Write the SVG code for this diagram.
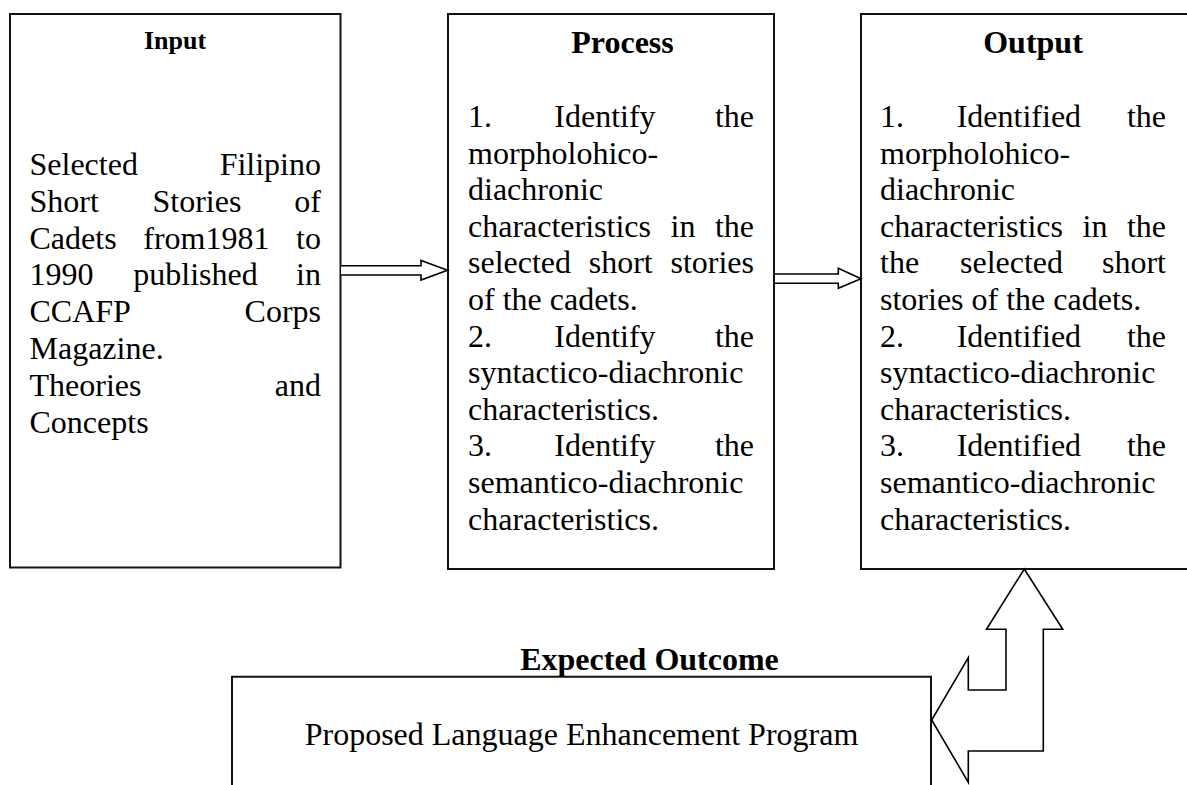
<svg xmlns="http://www.w3.org/2000/svg" width="1187" height="785" viewBox="0 0 1187 785">
<style>
.box{fill:#fff;stroke:#111;stroke-width:2}
.arr{fill:#fff;stroke:#000;stroke-width:1.6;stroke-linejoin:miter}
.t{font-family:"Liberation Serif","Times New Roman",serif;font-size:32px;fill:#000}
.h{font-family:"Liberation Serif","Times New Roman",serif;font-size:32px;font-weight:bold;fill:#000}
.e{text-anchor:end}
.m{text-anchor:middle}
</style>
<rect width="1187" height="785" fill="#fff"/>
<g id="input">
<rect class="box" x="10" y="14" width="330.5" height="553.5"/>
<text class="h m" x="175" y="49" style="font-size:26px">Input</text>
<text class="t" x="29.5" y="175">Selected</text><text class="t e" x="321" y="175">Filipino</text>
<text class="t" x="29.5" y="211.8">Short</text><text class="t" x="152.5" y="211.8">Stories</text><text class="t e" x="321" y="211.8">of</text>
<text class="t" x="29.5" y="248.6">Cadets</text><text class="t" x="143.3" y="248.6">from1981</text><text class="t e" x="321" y="248.6">to</text>
<text class="t" x="29.5" y="285.4">1990</text><text class="t" x="133.3" y="285.4">published</text><text class="t e" x="321" y="285.4">in</text>
<text class="t" x="29.5" y="322.2">CCAFP</text><text class="t e" x="321" y="322.2">Corps</text>
<text class="t" x="29.5" y="359">Magazine.</text>
<text class="t" x="29.5" y="395.8">Theories</text><text class="t e" x="321" y="395.8">and</text>
<text class="t" x="29.5" y="432.6">Concepts</text>
</g>
<g id="process">
<rect class="box" x="448" y="14" width="326" height="555"/>
<text class="h m" x="622.5" y="53">Process</text>
<text class="t" x="468" y="127">1.</text><text class="t" x="554.3" y="127">Identify</text><text class="t e" x="754" y="127">the</text>
<text class="t" x="468" y="163.6">morpholohico-</text>
<text class="t" x="468" y="200.2">diachronic</text>
<text class="t" x="468" y="236.8">characteristics</text><text class="t" x="670.5" y="236.8">in</text><text class="t e" x="754" y="236.8">the</text>
<text class="t" x="468" y="273.4">selected</text><text class="t" x="588.7" y="273.4">short</text><text class="t e" x="754" y="273.4">stories</text>
<text class="t" x="468" y="310">of the cadets.</text>
<text class="t" x="468" y="346.6">2.</text><text class="t" x="554.3" y="346.6">Identify</text><text class="t e" x="754" y="346.6">the</text>
<text class="t" x="468" y="383.2">syntactico-diachronic</text>
<text class="t" x="468" y="419.8">characteristics.</text>
<text class="t" x="468" y="456.4">3.</text><text class="t" x="554.3" y="456.4">Identify</text><text class="t e" x="754" y="456.4">the</text>
<text class="t" x="468" y="493">semantico-diachronic</text>
<text class="t" x="468" y="529.6">characteristics.</text>
</g>
<g id="output">
<rect class="box" x="861" y="14" width="340" height="555"/>
<text class="h m" x="1033" y="53">Output</text>
<text class="t" x="880" y="127">1.</text><text class="t" x="956.7" y="127">Identified</text><text class="t e" x="1166" y="127">the</text>
<text class="t" x="880" y="163.6">morpholohico-</text>
<text class="t" x="880" y="200.2">diachronic</text>
<text class="t" x="880" y="236.8">characteristics</text><text class="t" x="1082.5" y="236.8">in</text><text class="t e" x="1166" y="236.8">the</text>
<text class="t" x="880" y="273.4">the</text><text class="t" x="960" y="273.4">selected</text><text class="t e" x="1166" y="273.4">short</text>
<text class="t" x="880" y="310">stories of the cadets.</text>
<text class="t" x="880" y="346.6">2.</text><text class="t" x="956.7" y="346.6">Identified</text><text class="t e" x="1166" y="346.6">the</text>
<text class="t" x="880" y="383.2">syntactico-diachronic</text>
<text class="t" x="880" y="419.8">characteristics.</text>
<text class="t" x="880" y="456.4">3.</text><text class="t" x="956.7" y="456.4">Identified</text><text class="t e" x="1166" y="456.4">the</text>
<text class="t" x="880" y="493">semantico-diachronic</text>
<text class="t" x="880" y="529.6">characteristics.</text>
</g>
<g id="expected">
<text class="h m" x="649.5" y="670">Expected Outcome</text>
<path class="box" d="M232,790 V676.7 H931 V790" fill="#fff"/>
<text class="t m" x="581.5" y="745">Proposed Language Enhancement Program</text>
</g>
<g id="connectors">
<path class="arr" d="M341,265.7 H421 V260.5 L447.5,270.3 L421,280 V275 H341"/>
<path class="arr" d="M775,274 H838.3 V268.3 L861,278.7 L838.3,288.3 V283.3 H775"/>
<path class="arr" d="M1024.3,569 L1062.7,629.3 H1043.3 V751 H968.3 V782.3 L931.7,720 L968.3,657.7 V690 H1006 V629.3 H986.5 Z"/>
</g>
</svg>
